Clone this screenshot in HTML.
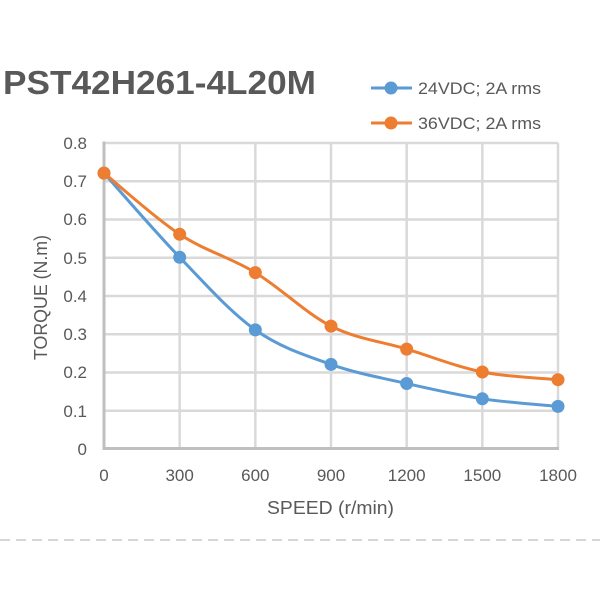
<!DOCTYPE html>
<html><head><meta charset="utf-8"><style>
html,body{margin:0;padding:0;background:#fff;}
svg{display:block;}
text{font-family:"Liberation Sans",sans-serif;}
</style></head><body>
<svg width="600" height="600" viewBox="0 0 600 600" xmlns="http://www.w3.org/2000/svg">
<rect width="600" height="600" fill="#fff"/>
<text x="3" y="94" font-size="33" font-weight="bold" fill="#595959" textLength="313" lengthAdjust="spacingAndGlyphs">PST42H261-4L20M</text>
<!-- legend -->
<line x1="371" y1="88" x2="412" y2="88" stroke="#5B9BD5" stroke-width="3"/>
<circle cx="391" cy="88" r="6.5" fill="#5B9BD5"/>
<text x="418" y="94" font-size="17" fill="#595959" textLength="123" lengthAdjust="spacingAndGlyphs">24VDC; 2A rms</text>
<line x1="371" y1="123" x2="412" y2="123" stroke="#ED7D31" stroke-width="3"/>
<circle cx="391" cy="123" r="6.5" fill="#ED7D31"/>
<text x="418" y="129" font-size="17" fill="#595959" textLength="123" lengthAdjust="spacingAndGlyphs">36VDC; 2A rms</text>
<!-- grid -->
<g stroke="#d9d9d9" stroke-width="2.5">
<line x1="104" y1="143" x2="558" y2="143"/>
<line x1="104" y1="181.25" x2="558" y2="181.25"/>
<line x1="104" y1="219.5" x2="558" y2="219.5"/>
<line x1="104" y1="257.75" x2="558" y2="257.75"/>
<line x1="104" y1="296" x2="558" y2="296"/>
<line x1="104" y1="334.25" x2="558" y2="334.25"/>
<line x1="104" y1="372.5" x2="558" y2="372.5"/>
<line x1="104" y1="410.75" x2="558" y2="410.75"/>
<line x1="179.67" y1="143" x2="179.67" y2="448.5"/>
<line x1="255.33" y1="143" x2="255.33" y2="448.5"/>
<line x1="331" y1="143" x2="331" y2="448.5"/>
<line x1="406.67" y1="143" x2="406.67" y2="448.5"/>
<line x1="482.33" y1="143" x2="482.33" y2="448.5"/>
<line x1="558" y1="143" x2="558" y2="448.5"/>
</g>
<g stroke="#bfbfbf" stroke-width="3">
<line x1="104" y1="141.5" x2="104" y2="450"/>
<line x1="102.5" y1="448.5" x2="559" y2="448.5"/>
</g>
<!-- y labels -->
<g font-size="17" fill="#595959" text-anchor="end">
<text x="87" y="149">0.8</text>
<text x="87" y="187">0.7</text>
<text x="87" y="225">0.6</text>
<text x="87" y="264">0.5</text>
<text x="87" y="302">0.4</text>
<text x="87" y="340">0.3</text>
<text x="87" y="378">0.2</text>
<text x="87" y="417">0.1</text>
<text x="87" y="455">0</text>
</g>
<g font-size="17" fill="#595959" text-anchor="middle">
<text x="104" y="481">0</text>
<text x="179.67" y="481">300</text>
<text x="255.33" y="481">600</text>
<text x="331" y="481">900</text>
<text x="406.67" y="481">1200</text>
<text x="482.33" y="481">1500</text>
<text x="558" y="481">1800</text>
</g>
<text x="267" y="514" font-size="18" fill="#595959" textLength="127" lengthAdjust="spacingAndGlyphs">SPEED (r/min)</text>
<text transform="translate(47,360) rotate(-90)" x="0" y="0" font-size="18" fill="#595959" textLength="125" lengthAdjust="spacingAndGlyphs">TORQUE (N.m)</text>
<!-- blue series -->
<path d="M104,173.1 C116.61,187.13 154.45,231.17 179.67,257.3 C204.89,283.43 230.11,312.05 255.33,329.9 C280.55,347.75 305.78,355.47 331,364.4 C356.22,373.33 381.45,377.77 406.67,383.5 C431.89,389.23 457.11,394.98 482.33,398.8 C507.55,402.62 545.39,405.13 558,406.4" fill="none" stroke="#5B9BD5" stroke-width="3"/>
<g fill="#5B9BD5">
<circle cx="104" cy="173.1" r="6.5"/>
<circle cx="179.67" cy="257.3" r="6.5"/>
<circle cx="255.33" cy="329.9" r="6.5"/>
<circle cx="331" cy="364.4" r="6.5"/>
<circle cx="406.67" cy="383.5" r="6.5"/>
<circle cx="482.33" cy="398.8" r="6.5"/>
<circle cx="558" cy="406.4" r="6.5"/>
</g>
<!-- orange series -->
<path d="M104,173.1 C116.61,183.3 154.45,217.72 179.67,234.3 C204.89,250.88 230.11,257.3 255.33,272.6 C280.55,287.9 305.78,313.35 331,326.1 C356.22,338.85 381.45,341.45 406.67,349.1 C431.89,356.75 457.11,366.9 482.33,372 C507.55,377.1 545.39,378.42 558,379.7" fill="none" stroke="#ED7D31" stroke-width="3"/>
<g fill="#ED7D31">
<circle cx="104" cy="173.1" r="6.5"/>
<circle cx="179.67" cy="234.3" r="6.5"/>
<circle cx="255.33" cy="272.6" r="6.5"/>
<circle cx="331" cy="326.1" r="6.5"/>
<circle cx="406.67" cy="349.1" r="6.5"/>
<circle cx="482.33" cy="372" r="6.5"/>
<circle cx="558" cy="379.7" r="6.5"/>
</g>
<!-- dashed separator -->
<line x1="0" y1="540" x2="600" y2="540" stroke="#bdbdbd" stroke-width="1.2" stroke-dasharray="10,6"/>
</svg>
</body></html>
